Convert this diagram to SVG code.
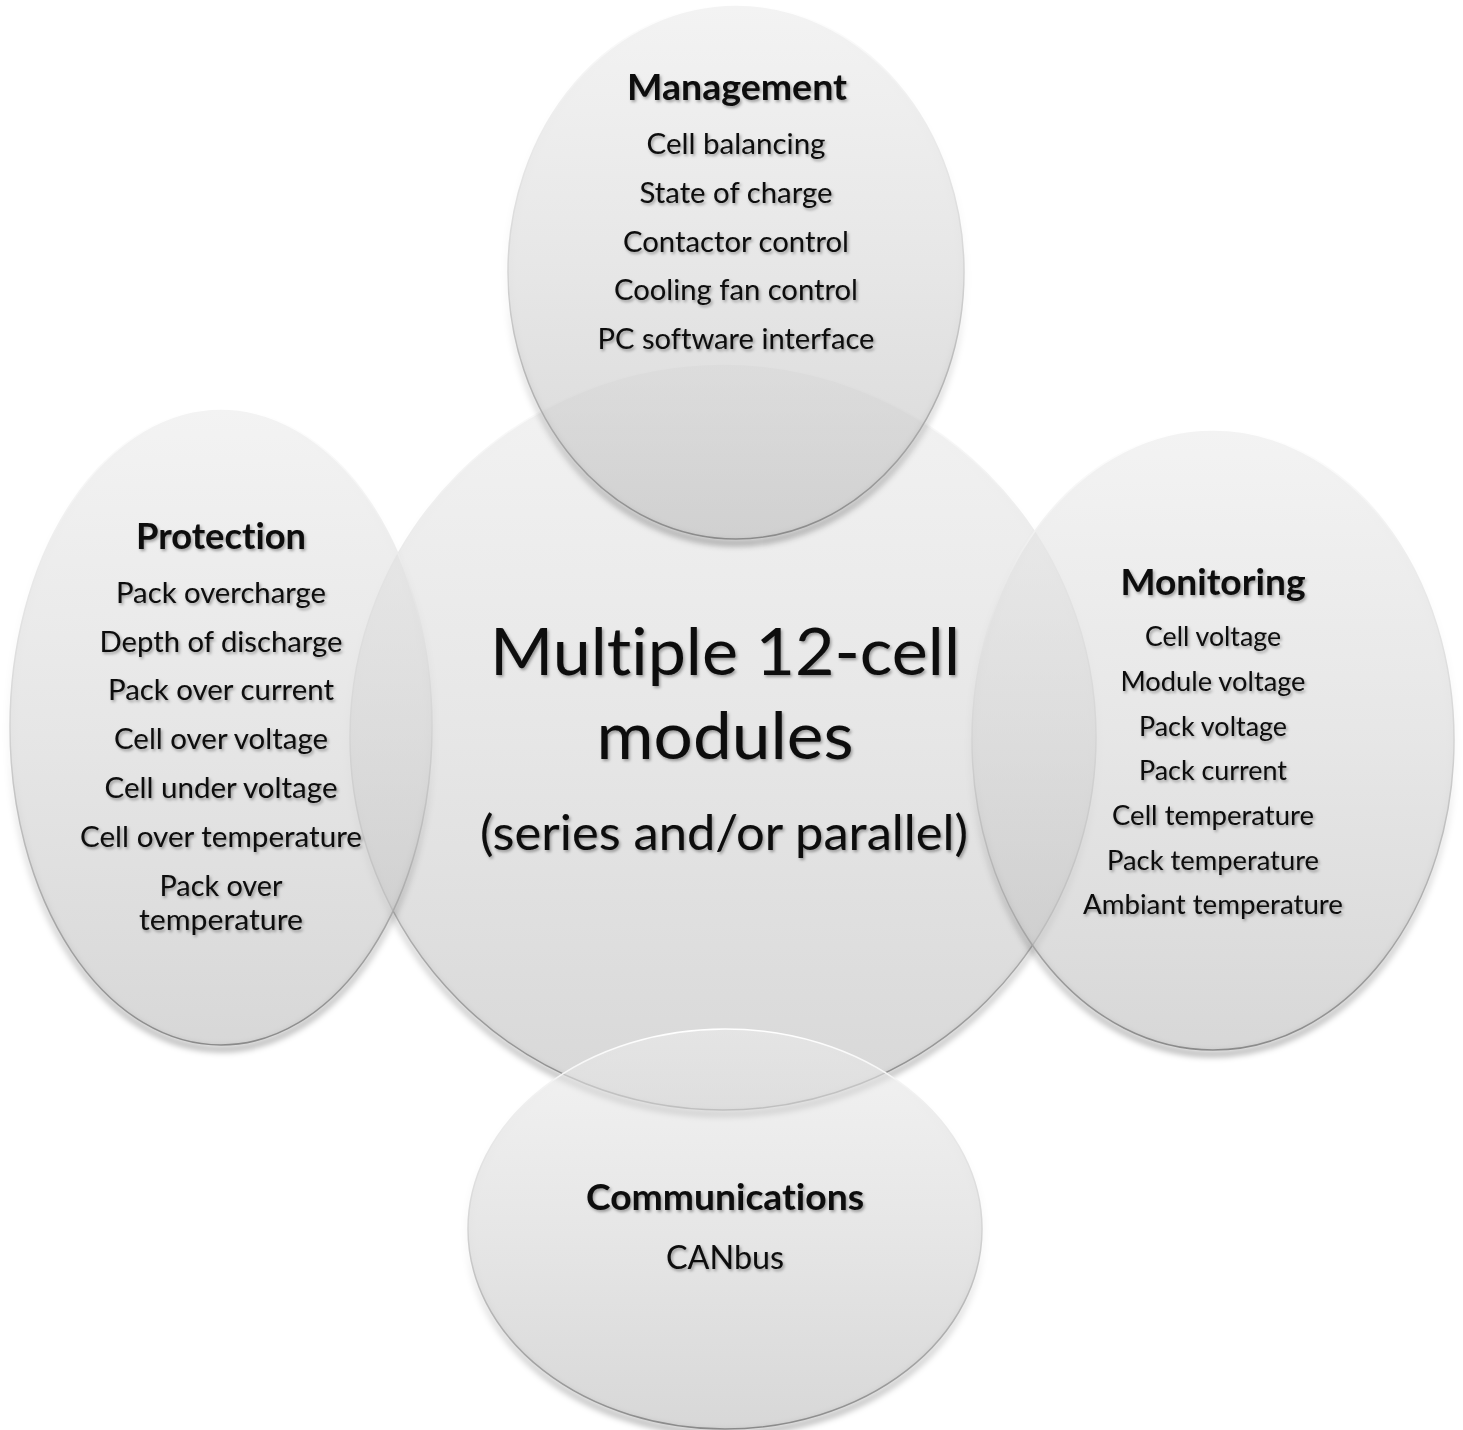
<svg xmlns="http://www.w3.org/2000/svg" width="1463" height="1430" viewBox="0 0 1463 1430">
  <defs>
    <linearGradient id="fillG" x1="0" y1="0" x2="0" y2="1">
      <stop offset="0" stop-color="#ebebeb"/>
      <stop offset="0.5" stop-color="#d6d6d6"/>
      <stop offset="1" stop-color="#bdbdbd"/>
    </linearGradient>
    <linearGradient id="strokeG" x1="0" y1="0" x2="0" y2="1">
      <stop offset="0" stop-color="#ffffff"/>
      <stop offset="0.5" stop-color="#d4d4d4"/>
      <stop offset="1" stop-color="#8a8a8a"/>
    </linearGradient>
    <linearGradient id="shadowG" x1="0" y1="0" x2="0" y2="1">
      <stop offset="0" stop-color="#000" stop-opacity="0"/>
      <stop offset="0.55" stop-color="#000" stop-opacity="0.04"/>
      <stop offset="1" stop-color="#000" stop-opacity="0.35"/>
    </linearGradient>
    <filter id="blur" x="-10%" y="-10%" width="120%" height="120%">
      <feGaussianBlur stdDeviation="3"/>
    </filter>
    <filter id="tshadow" x="-10%" y="-30%" width="120%" height="160%">
      <feDropShadow dx="1.5" dy="2" stdDeviation="1.5" flood-color="#000" flood-opacity="0.35"/>
    </filter>
  </defs>
  <style>
    .shape { fill: url(#fillG); fill-opacity: 0.6; stroke: url(#strokeG); stroke-width: 1.5; }
    .shadow { fill: none; stroke: url(#shadowG); stroke-width: 5; filter: url(#blur); }
    text { font-family: "Lato", "Liberation Sans", sans-serif; fill: #0a0a0a; text-anchor: middle; filter: url(#tshadow); font-variant-ligatures: none; }
    .title { font-weight: bold; font-size: 35.5px; }
    .item { font-size: 28.4px; }
    .mitem { font-size: 26px; }
    .big { font-size: 66.5px; }
    .sub { font-size: 47.7px; }
  </style>
  <rect width="1463" height="1430" fill="#ffffff"/>

  <g id="connectors"/>

  <g id="node-center">
    <circle class="shadow" cx="723" cy="741" r="373"/>
    <circle class="shape" cx="723" cy="737" r="373"/>
    <text class="big" x="725" y="675" textLength="470" lengthAdjust="spacingAndGlyphs">Multiple 12-cell</text>
    <text class="big" x="725" y="759" textLength="257" lengthAdjust="spacingAndGlyphs">modules</text>
    <text class="sub" x="724" y="850" textLength="488" lengthAdjust="spacingAndGlyphs">(series and/or parallel)</text>
  </g>

  <g id="node-management">
    <ellipse class="shadow" cx="736" cy="276" rx="228" ry="267"/>
    <ellipse class="shape" cx="736" cy="272" rx="228" ry="267"/>
    <text class="title" x="737" y="100" textLength="220" lengthAdjust="spacingAndGlyphs">Management</text>
    <text class="item" x="736" y="154" textLength="179" lengthAdjust="spacingAndGlyphs">Cell balancing</text>
    <text class="item" x="736" y="203" textLength="193" lengthAdjust="spacingAndGlyphs">State of charge</text>
    <text class="item" x="736" y="252" textLength="226" lengthAdjust="spacingAndGlyphs">Contactor control</text>
    <text class="item" x="736" y="300" textLength="244" lengthAdjust="spacingAndGlyphs">Cooling fan control</text>
    <text class="item" x="736" y="349" textLength="277" lengthAdjust="spacingAndGlyphs">PC software interface</text>
  </g>

  <g id="node-protection">
    <ellipse class="shadow" cx="221" cy="731" rx="211" ry="318"/>
    <ellipse class="shape" cx="221" cy="727" rx="211" ry="318"/>
    <text class="title" x="221" y="549" textLength="170" lengthAdjust="spacingAndGlyphs">Protection</text>
    <text class="item" x="221" y="603" textLength="210" lengthAdjust="spacingAndGlyphs">Pack overcharge</text>
    <text class="item" x="221" y="652" textLength="243" lengthAdjust="spacingAndGlyphs">Depth of discharge</text>
    <text class="item" x="221" y="700" textLength="226" lengthAdjust="spacingAndGlyphs">Pack over current</text>
    <text class="item" x="221" y="749" textLength="214" lengthAdjust="spacingAndGlyphs">Cell over voltage</text>
    <text class="item" x="221" y="798" textLength="233" lengthAdjust="spacingAndGlyphs">Cell under voltage</text>
    <text class="item" x="221" y="847" textLength="282" lengthAdjust="spacingAndGlyphs">Cell over temperature</text>
    <text class="item" x="221" y="896" textLength="123" lengthAdjust="spacingAndGlyphs">Pack over</text>
    <text class="item" x="221" y="930" textLength="164" lengthAdjust="spacingAndGlyphs">temperature</text>
  </g>

  <g id="node-monitoring">
    <ellipse class="shadow" cx="1213" cy="744" rx="241" ry="310"/>
    <ellipse class="shape" cx="1213" cy="740" rx="241" ry="310"/>
    <text class="title" x="1213" y="595" textLength="185" lengthAdjust="spacingAndGlyphs">Monitoring</text>
    <text class="mitem" x="1213" y="646" textLength="136" lengthAdjust="spacingAndGlyphs">Cell voltage</text>
    <text class="mitem" x="1213" y="691" textLength="185" lengthAdjust="spacingAndGlyphs">Module voltage</text>
    <text class="mitem" x="1213" y="736" textLength="148" lengthAdjust="spacingAndGlyphs">Pack voltage</text>
    <text class="mitem" x="1213" y="780" textLength="148" lengthAdjust="spacingAndGlyphs">Pack current</text>
    <text class="mitem" x="1213" y="825" textLength="202" lengthAdjust="spacingAndGlyphs">Cell temperature</text>
    <text class="mitem" x="1213" y="870" textLength="212" lengthAdjust="spacingAndGlyphs">Pack temperature</text>
    <text class="mitem" x="1213" y="914" textLength="260" lengthAdjust="spacingAndGlyphs">Ambiant temperature</text>
  </g>

  <g id="node-communications">
    <ellipse class="shadow" cx="725" cy="1233" rx="257" ry="200"/>
    <ellipse class="shape" cx="725" cy="1229" rx="257" ry="200"/>
    <text class="title" x="725" y="1210" textLength="278" lengthAdjust="spacingAndGlyphs">Communications</text>
    <text class="title" style="font-weight:normal;font-size:33px" x="725" y="1269" textLength="118" lengthAdjust="spacingAndGlyphs">CANbus</text>
  </g>
</svg>
